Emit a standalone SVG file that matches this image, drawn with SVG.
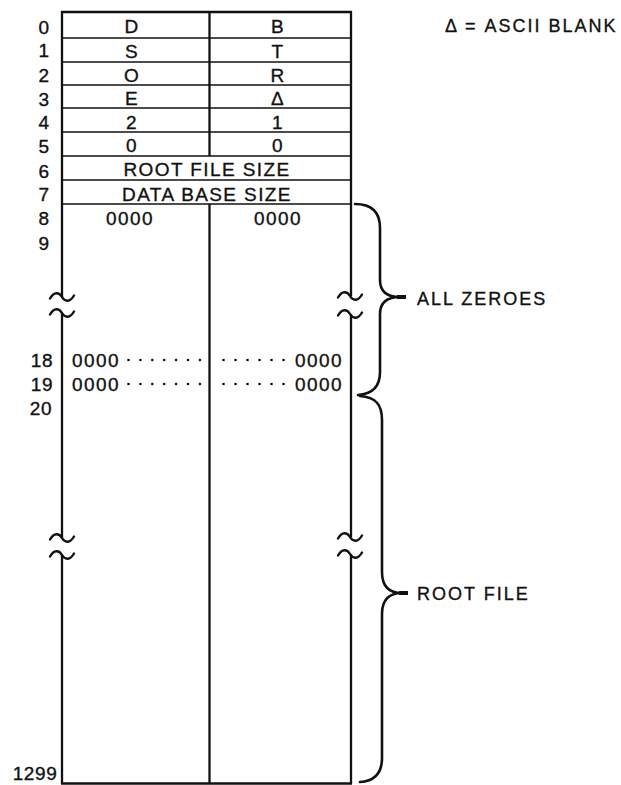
<svg xmlns="http://www.w3.org/2000/svg" xmlns:xlink="http://www.w3.org/1999/xlink" width="621" height="785" viewBox="0 0 621 785">
<style>
  .bg { fill: #ffffff; }
  .ln { stroke: #111; stroke-width: 2.3; fill: none; stroke-linecap: butt; }
  .rl { stroke: #111; stroke-width: 1.7; fill: none; }
  .cell { font-family: "Liberation Sans", Arial, sans-serif; font-size: 19px; letter-spacing: 1.4px; fill: #111; stroke: #111; stroke-width: 0.35; text-anchor: middle; }
  .num { font-family: "Liberation Sans", Arial, sans-serif; font-size: 19px; letter-spacing: 0.6px; fill: #111; stroke: #111; stroke-width: 0.35; text-anchor: middle; }
  .lbl { font-family: "Liberation Sans", Arial, sans-serif; font-size: 18px; letter-spacing: 2px; fill: #111; stroke: #111; stroke-width: 0.35; }
  .brace { stroke: #111; stroke-width: 2.6; fill: none; stroke-linecap: round; }
  .tip { stroke: #111; stroke-width: 4; fill: none; }
  .tilde { stroke: #111; stroke-width: 2.4; fill: none; stroke-linecap: round; }
  .dot { fill: #111; }
</style>
<defs>
  <path id="tl" d="M -12,1.5 C -8,-5.5 -3,-5 0,0 C 3,5 8,5.5 12,-1.5"/>
</defs>
<rect class="bg" x="0" y="0" width="621" height="785"/>

<g id="row-labels">
  <text class="num" x="44" y="34">0</text>
  <text class="num" x="44" y="57">1</text>
  <text class="num" x="44" y="82">2</text>
  <text class="num" x="44" y="106">3</text>
  <text class="num" x="44" y="129">4</text>
  <text class="num" x="44" y="153">5</text>
  <text class="num" x="44" y="178">6</text>
  <text class="num" x="44" y="201">7</text>
  <text class="num" x="44" y="225">8</text>
  <text class="num" x="44" y="250">9</text>
  <text class="num" x="42" y="367">18</text>
  <text class="num" x="42" y="391">19</text>
  <text class="num" x="41" y="415">20</text>
  <text class="num" x="35" y="780">1299</text>
</g>

<g id="table">
  <line class="ln" x1="62" y1="11" x2="62" y2="297"/>
  <line class="ln" x1="62" y1="313" x2="62" y2="538"/>
  <line class="ln" x1="62" y1="555" x2="62" y2="784"/>
  <line class="ln" x1="351" y1="11" x2="351" y2="296"/>
  <line class="ln" x1="351" y1="314" x2="351" y2="537"/>
  <line class="ln" x1="351" y1="554" x2="351" y2="784"/>
  <line class="ln" x1="209.5" y1="12" x2="209.5" y2="156"/>
  <line class="ln" x1="209.5" y1="204" x2="209.5" y2="784"/>
  <line class="ln" x1="61" y1="12" x2="352" y2="12" style="stroke-width:2.6"/>
  <line class="rl" x1="62" y1="38" x2="351" y2="38"/>
  <line class="rl" x1="62" y1="62" x2="351" y2="62"/>
  <line class="rl" x1="62" y1="85" x2="351" y2="85"/>
  <line class="rl" x1="62" y1="108" x2="351" y2="108"/>
  <line class="rl" x1="62" y1="132" x2="351" y2="132"/>
  <line class="rl" x1="62" y1="156" x2="351" y2="156"/>
  <line class="rl" x1="62" y1="180" x2="351" y2="180"/>
  <line class="rl" x1="62" y1="204" x2="351" y2="204"/>
  <line class="ln" x1="61" y1="783.5" x2="352" y2="783.5"/>
  <use href="#tl" xlink:href="#tl" class="tilde" x="62" y="297"/>
  <use href="#tl" xlink:href="#tl" class="tilde" x="62" y="313"/>
  <use href="#tl" xlink:href="#tl" class="tilde" x="350" y="296"/>
  <use href="#tl" xlink:href="#tl" class="tilde" x="350" y="314"/>
  <use href="#tl" xlink:href="#tl" class="tilde" x="62" y="538"/>
  <use href="#tl" xlink:href="#tl" class="tilde" x="62" y="555"/>
  <use href="#tl" xlink:href="#tl" class="tilde" x="350" y="537"/>
  <use href="#tl" xlink:href="#tl" class="tilde" x="350" y="554"/>
</g>

<g id="cells">
  <text class="cell" x="132" y="33">D</text>
  <text class="cell" x="278" y="33">B</text>
  <text class="cell" x="132" y="58">S</text>
  <text class="cell" x="278" y="58">T</text>
  <text class="cell" x="132" y="82">O</text>
  <text class="cell" x="278" y="82">R</text>
  <text class="cell" x="132" y="105">E</text>
  <text class="cell" x="278" y="105">Δ</text>
  <text class="cell" x="132" y="129">2</text>
  <text class="cell" x="278" y="129">1</text>
  <text class="cell" x="132" y="152">0</text>
  <text class="cell" x="278" y="152">0</text>
  <text class="cell" x="207" y="176">ROOT FILE SIZE</text>
  <text class="cell" x="207" y="201">DATA BASE SIZE</text>
  <text class="cell" x="130" y="225">0000</text>
  <text class="cell" x="278" y="225">0000</text>
  <text class="cell" x="96" y="367">0000</text>
  <text class="cell" x="319" y="367">0000</text>
  <text class="cell" x="96" y="391">0000</text>
  <text class="cell" x="319" y="391">0000</text>
  <g id="leaders">
    <circle class="dot" cx="128.5" cy="360" r="1.3"/>
    <circle class="dot" cx="140.4" cy="360" r="1.3"/>
    <circle class="dot" cx="152.3" cy="360" r="1.3"/>
    <circle class="dot" cx="164.2" cy="360" r="1.3"/>
    <circle class="dot" cx="176.1" cy="360" r="1.3"/>
    <circle class="dot" cx="188" cy="360" r="1.3"/>
    <circle class="dot" cx="199.9" cy="360" r="1.3"/>
    <circle class="dot" cx="223.5" cy="360" r="1.3"/>
    <circle class="dot" cx="235.5" cy="360" r="1.3"/>
    <circle class="dot" cx="247.5" cy="360" r="1.3"/>
    <circle class="dot" cx="259.5" cy="360" r="1.3"/>
    <circle class="dot" cx="271.5" cy="360" r="1.3"/>
    <circle class="dot" cx="283.5" cy="360" r="1.3"/>
    <circle class="dot" cx="128.5" cy="384" r="1.3"/>
    <circle class="dot" cx="140.4" cy="384" r="1.3"/>
    <circle class="dot" cx="152.3" cy="384" r="1.3"/>
    <circle class="dot" cx="164.2" cy="384" r="1.3"/>
    <circle class="dot" cx="176.1" cy="384" r="1.3"/>
    <circle class="dot" cx="188" cy="384" r="1.3"/>
    <circle class="dot" cx="199.9" cy="384" r="1.3"/>
    <circle class="dot" cx="223.5" cy="384" r="1.3"/>
    <circle class="dot" cx="235.5" cy="384" r="1.3"/>
    <circle class="dot" cx="247.5" cy="384" r="1.3"/>
    <circle class="dot" cx="259.5" cy="384" r="1.3"/>
    <circle class="dot" cx="271.5" cy="384" r="1.3"/>
    <circle class="dot" cx="283.5" cy="384" r="1.3"/>
  </g>
</g>

<g id="connectors">
  <path class="brace" d="M 355,204 C 372,204 380,212 380,228 L 380,280 C 380,292 387,297 400,297 C 387,297 380,302 380,314 L 380,372 C 380,386 373,394 358,395"/>
  <line class="tip" x1="397" y1="297" x2="406" y2="297"/>
  <path class="brace" d="M 360,396 C 376,397 382,405 382,420 L 382,572 C 382,586 389,593 402,593 C 389,593 382,600 382,614 L 382,758 C 382,772 376,781 360,782"/>
  <line class="tip" x1="399" y1="593" x2="408" y2="593"/>
</g>

<g id="legend">
  <text class="lbl" x="445" y="32">Δ = ASCII BLANK</text>
</g>
<g id="all-zeroes-label">
  <text class="lbl" x="417" y="305">ALL ZEROES</text>
</g>
<g id="root-file-label">
  <text class="lbl" x="417" y="600">ROOT FILE</text>
</g>
</svg>
